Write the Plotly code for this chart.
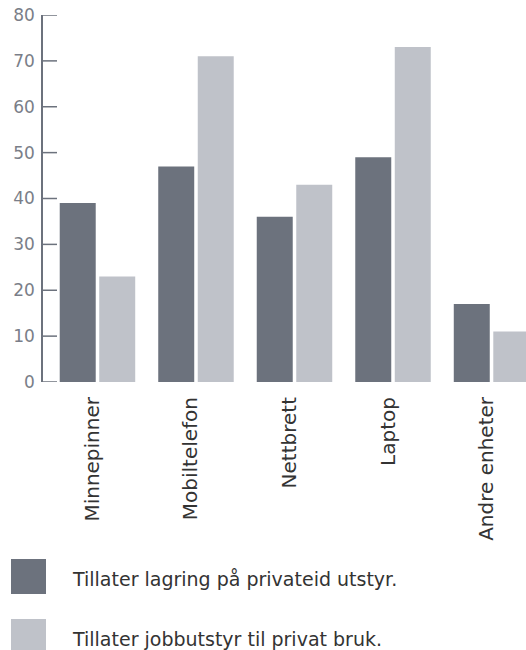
import plotly.graph_objects as go

categories = ["Minnepinner", "Mobiltelefon", "Nettbrett", "Laptop", "Andre enheter"]
series_names = ["Tillater lagring på privateid utstyr.", "Tillater jobbutstyr til privat bruk."]
storage_values = [39, 47, 36, 49, 17]
jobgear_values = [23, 71, 43, 73, 11]
y_ticks = [0, 10, 20, 30, 40, 50, 60, 70, 80]

DARK = "#6c727d"
LIGHT = "#bfc2c9"
AXIS = "#6c727d"
TEXT = "#333333"
FONT = "DejaVu Sans"

W, H = 526, 650
ML, MT, MB = 43, 15, 268
PW = W - ML
PH = H - MT - MB


def px_x(p):
    return (p - ML) / PW


def px_y(p):
    return (H - MB - p) / PH


fig = go.Figure()
fig.add_trace(go.Bar(x=categories, y=storage_values, name=series_names[0],
                     marker=dict(color=DARK, line=dict(width=0))))
fig.add_trace(go.Bar(x=categories, y=jobgear_values, name=series_names[1],
                     marker=dict(color=LIGHT, line=dict(width=0))))

shapes = []
annotations = []
# axis tick marks pointing into the plot, placed on the y scale
for v in y_ticks:
    shapes.append(dict(type="line", xref="paper", yref="y",
                       x0=0, x1=px_x(57), y0=v, y1=v,
                       line=dict(color=AXIS, width=1.5), layer="above"))

colors = [DARK, LIGHT]
tops = [559, 619]
for i, (name, col) in enumerate(zip(series_names, colors)):
    t = tops[i]
    shapes.append(dict(type="rect", xref="paper", yref="paper",
                       x0=px_x(11), x1=px_x(46), y0=px_y(t + 35), y1=px_y(t),
                       fillcolor=col, line=dict(width=0)))
    annotations.append(dict(xref="paper", yref="paper", x=px_x(70), y=px_y(t + 20),
                            text=name, showarrow=False, xanchor="left", yanchor="middle",
                            font=dict(family=FONT, size=19, color=TEXT)))

fig.update_layout(
    width=W, height=H,
    margin=dict(l=ML, r=0, t=MT, b=MB, pad=0),
    paper_bgcolor="white", plot_bgcolor="white",
    barmode="group", bargap=0.198, bargroupgap=0.089,
    showlegend=False,
    shapes=shapes, annotations=annotations,
    xaxis=dict(type="category", range=[-0.553, 4.35], showline=False, showgrid=False,
               zeroline=False, ticks="", tickangle=-90, ticklabelstandoff=10,
               ticklabelshift=-5,
               tickfont=dict(family=FONT, size=20, color=TEXT)),
    yaxis=dict(range=[0, 80], tickvals=y_ticks, showgrid=False, zeroline=False,
               showline=True, linecolor=AXIS, linewidth=1.5,
               ticks="", ticklabelstandoff=3,
               tickfont=dict(family=FONT, size=17, color="#7a7e88")),
)

fig.write_html("out.html")
